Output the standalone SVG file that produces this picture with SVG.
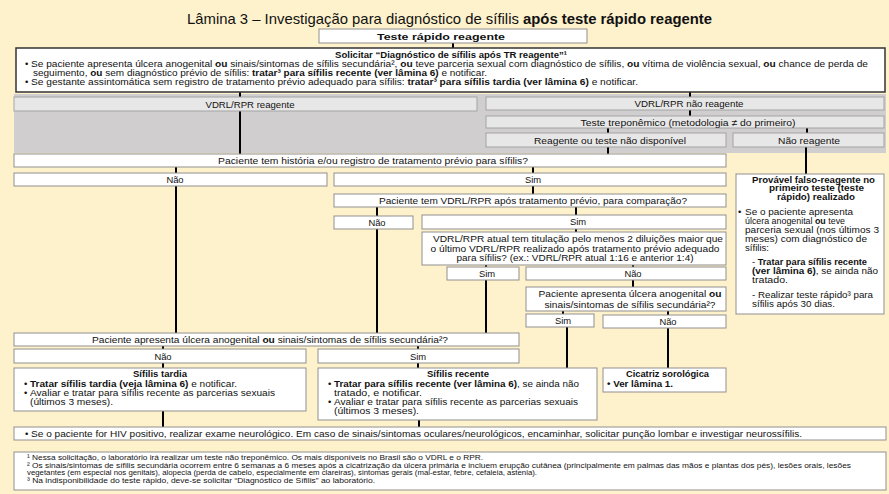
<svg xmlns="http://www.w3.org/2000/svg" width="889" height="494" viewBox="0 0 889 494">
<style>
.t{font-family:"Liberation Sans",Arial,sans-serif;font-size:9.4px;fill:#111}
.ti{font-family:"Liberation Sans",Arial,sans-serif;font-size:14.5px;fill:#111}
.fn{font-family:"Liberation Sans",Arial,sans-serif;font-size:7.6px;fill:#111}
.b{font-weight:bold}
.m{text-anchor:middle}
.box{fill:#fff;stroke:#8F8F8F;stroke-width:1}
.gbox{fill:#E8E7E7;stroke:#A3A3A3;stroke-width:1}
.ln{stroke:#000;stroke-width:2;fill:none}
</style>
<rect x="0" y="0" width="889" height="494" fill="#FEF2CD"/>
<text class="ti m" x="449.5" y="24" textLength="525" lengthAdjust="spacingAndGlyphs">Lâmina 3 – Investigação para diagnóstico de sífilis <tspan class="b">após teste rápido reagente</tspan></text>

<rect x="14" y="94" width="872" height="59" fill="#D0CECE"/>

<g id="connectors">
<line class="ln" x1="453" y1="43" x2="453" y2="48"/>
<line class="ln" x1="240" y1="92" x2="240" y2="97"/>
<line class="ln" x1="690" y1="92" x2="690" y2="97"/>
<line class="ln" x1="240" y1="111" x2="240" y2="154"/>
<line class="ln" x1="690" y1="110" x2="690" y2="116"/>
<line class="ln" x1="608" y1="128" x2="608" y2="133"/>
<line class="ln" x1="807" y1="128" x2="807" y2="133"/>
<line class="ln" x1="608" y1="147" x2="608" y2="154"/>
<line class="ln" x1="806" y1="147" x2="806" y2="174"/>
<line class="ln" x1="176" y1="167" x2="176" y2="173"/>
<line class="ln" x1="533" y1="167" x2="533" y2="173"/>
<line class="ln" x1="176" y1="186" x2="176" y2="333"/>
<line class="ln" x1="533" y1="186" x2="533" y2="194"/>
<line class="ln" x1="377" y1="207" x2="377" y2="216"/>
<line class="ln" x1="576" y1="207" x2="576" y2="215"/>
<line class="ln" x1="377" y1="229" x2="377" y2="333"/>
<line class="ln" x1="576" y1="229" x2="576" y2="232"/>
<line class="ln" x1="486" y1="265" x2="486" y2="267"/>
<line class="ln" x1="633" y1="265" x2="633" y2="267"/>
<line class="ln" x1="486" y1="280" x2="486" y2="333"/>
<line class="ln" x1="633" y1="280" x2="633" y2="287"/>
<line class="ln" x1="563" y1="311" x2="563" y2="314"/>
<line class="ln" x1="668" y1="311" x2="668" y2="315"/>
<line class="ln" x1="567" y1="327" x2="567" y2="368"/>
<line class="ln" x1="668" y1="328" x2="668" y2="368"/>
<line class="ln" x1="163" y1="346" x2="163" y2="349"/>
<line class="ln" x1="418" y1="346" x2="418" y2="349"/>
<line class="ln" x1="163" y1="363" x2="163" y2="368"/>
<line class="ln" x1="418" y1="363" x2="418" y2="368"/>
<line class="ln" x1="163" y1="411" x2="163" y2="427"/>
<line class="ln" x1="419" y1="420" x2="419" y2="427"/>
</g>

<g id="teste-rapido">
<rect class="box" x="319" y="29" width="268" height="14"/>
<text class="t b m" x="441" y="39.5" textLength="128" lengthAdjust="spacingAndGlyphs">Teste rápido reagente</text>
</g>

<g id="solicitar">
<rect x="16" y="48" width="869" height="44" fill="#fff" stroke="#333" stroke-width="1.5"/>
<text class="t b m" x="451" y="57.5" textLength="232" lengthAdjust="spacingAndGlyphs">Solicitar “Diagnóstico de sífilis após TR reagente”¹</text>
<text class="t" x="25" y="66.5">•</text>
<text class="t" x="31" y="66.5" textLength="837" lengthAdjust="spacingAndGlyphs">Se paciente apresenta úlcera anogenital <tspan class="b">ou</tspan> sinais/sintomas de sífilis secundária², <tspan class="b">ou</tspan> teve parceria sexual com diagnóstico de sífilis, <tspan class="b">ou</tspan> vítima de violência sexual, <tspan class="b">ou</tspan> chance de perda de</text>
<text class="t" x="33" y="75.5" textLength="454" lengthAdjust="spacingAndGlyphs">seguimento, <tspan class="b">ou</tspan> sem diagnóstico prévio de sífilis: <tspan class="b">tratar³ para sífilis recente (ver lâmina 6)</tspan> e notificar.</text>
<text class="t" x="25" y="84.5">•</text>
<text class="t" x="31" y="84.5" textLength="607" lengthAdjust="spacingAndGlyphs">Se gestante assintomática sem registro de tratamento prévio adequado para sífilis: <tspan class="b">tratar³ para sífilis tardia (ver lâmina 6)</tspan> e notificar.</text>
</g>

<g id="vdrl-reagente">
<rect class="gbox" x="14" y="97" width="463" height="14"/>
<text class="t m" x="250" y="107.5" textLength="89" lengthAdjust="spacingAndGlyphs">VDRL/RPR reagente</text>
</g>
<g id="vdrl-nao-reagente">
<rect class="gbox" x="486" y="97" width="398" height="13"/>
<text class="t m" x="689" y="107" textLength="109" lengthAdjust="spacingAndGlyphs">VDRL/RPR não reagente</text>
</g>
<g id="teste-treponemico">
<rect class="gbox" x="486" y="116" width="398" height="12"/>
<text class="t m" x="688" y="125.5" textLength="215" lengthAdjust="spacingAndGlyphs">Teste treponêmico (metodologia ≠ do primeiro)</text>
</g>
<g id="reagente-ou">
<rect class="gbox" x="486" y="133" width="240" height="14"/>
<text class="t m" x="610" y="143.5" textLength="152" lengthAdjust="spacingAndGlyphs">Reagente ou teste não disponível</text>
</g>
<g id="nao-reagente">
<rect class="gbox" x="733" y="133" width="151" height="14"/>
<text class="t m" x="809" y="143.5" textLength="62" lengthAdjust="spacingAndGlyphs">Não reagente</text>
</g>

<g id="historia">
<rect class="box" x="14" y="154" width="712" height="13"/>
<text class="t m" x="373" y="164" textLength="310" lengthAdjust="spacingAndGlyphs">Paciente tem história e/ou registro de tratamento prévio para sífilis?</text>
</g>
<g id="hist-nao">
<rect class="box" x="14" y="173" width="313" height="13"/>
<text class="t m" x="175" y="183">Não</text>
</g>
<g id="hist-sim">
<rect class="box" x="334" y="173" width="392" height="13"/>
<text class="t m" x="533" y="183">Sim</text>
</g>
<g id="vdrl-apos">
<rect class="box" x="334" y="194" width="392" height="13"/>
<text class="t m" x="533" y="204" textLength="308" lengthAdjust="spacingAndGlyphs">Paciente tem VDRL/RPR após tratamento prévio, para comparação?</text>
</g>
<g id="apos-nao">
<rect class="box" x="334" y="216" width="79" height="13"/>
<text class="t m" x="377" y="226">Não</text>
</g>
<g id="apos-sim">
<rect class="box" x="422" y="215" width="304" height="14"/>
<text class="t m" x="578" y="225">Sim</text>
</g>
<g id="vdrl-atual">
<rect class="box" x="422" y="232" width="304" height="33"/>
<text class="t m" x="578" y="242" textLength="290" lengthAdjust="spacingAndGlyphs">VDRL/RPR atual tem titulação pelo menos 2 diluições maior que</text>
<text class="t m" x="575" y="251.5" textLength="289" lengthAdjust="spacingAndGlyphs">o último VDRL/RPR realizado após tratamento prévio adequado</text>
<text class="t m" x="575" y="261" textLength="237" lengthAdjust="spacingAndGlyphs">para sífilis? (ex.: VDRL/RPR atual 1:16 e anterior 1:4)</text>
</g>
<g id="atual-sim">
<rect class="box" x="447" y="267" width="72" height="13"/>
<text class="t m" x="487" y="277">Sim</text>
</g>
<g id="atual-nao">
<rect class="box" x="526" y="267" width="200" height="13"/>
<text class="t m" x="633" y="277">Não</text>
</g>
<g id="ulcera-pequena">
<rect class="box" x="526" y="287" width="200" height="24"/>
<text class="t m" x="630" y="297" textLength="183" lengthAdjust="spacingAndGlyphs">Paciente apresenta úlcera anogenital <tspan class="b">ou</tspan></text>
<text class="t m" x="630" y="307.5" textLength="171" lengthAdjust="spacingAndGlyphs">sinais/sintomas de sífilis secundária²?</text>
</g>
<g id="ulcera-sim">
<rect class="box" x="526" y="314" width="68" height="13"/>
<text class="t m" x="563" y="324">Sim</text>
</g>
<g id="ulcera-nao">
<rect class="box" x="603" y="315" width="123" height="13"/>
<text class="t m" x="668" y="325">Não</text>
</g>

<g id="provavel">
<rect class="box" x="736" y="174" width="148" height="140"/>
<text class="t b m" x="813.5" y="182.5" textLength="123" lengthAdjust="spacingAndGlyphs">Provável falso-reagente no</text>
<text class="t b m" x="816.5" y="191" textLength="95" lengthAdjust="spacingAndGlyphs">primeiro teste (teste</text>
<text class="t b m" x="816" y="199.5" textLength="78" lengthAdjust="spacingAndGlyphs">rápido) realizado</text>
<text class="t" x="738" y="215">•</text>
<text class="t" x="745" y="215" textLength="108" lengthAdjust="spacingAndGlyphs">Se o paciente apresenta</text>
<text class="t" x="745" y="224" textLength="100" lengthAdjust="spacingAndGlyphs">úlcera anogenital <tspan class="b">ou</tspan> teve</text>
<text class="t" x="745" y="233" textLength="134" lengthAdjust="spacingAndGlyphs">parceria sexual (nos últimos 3</text>
<text class="t" x="745" y="242" textLength="122" lengthAdjust="spacingAndGlyphs">meses) com diagnóstico de</text>
<text class="t" x="745" y="251" textLength="24" lengthAdjust="spacingAndGlyphs">sífilis:</text>
<text class="t" x="752" y="265" textLength="115" lengthAdjust="spacingAndGlyphs">- <tspan class="b">Tratar para sífilis recente</tspan></text>
<text class="t" x="752" y="274" textLength="126" lengthAdjust="spacingAndGlyphs"><tspan class="b">(ver lâmina 6)</tspan>, se ainda não</text>
<text class="t" x="752" y="283" textLength="36" lengthAdjust="spacingAndGlyphs">tratado.</text>
<text class="t" x="752" y="298" textLength="121" lengthAdjust="spacingAndGlyphs">- Realizar teste rápido³ para</text>
<text class="t" x="752" y="307" textLength="83" lengthAdjust="spacingAndGlyphs">sífilis após 30 dias.</text>
</g>

<g id="ulcera-grande">
<rect class="box" x="14" y="333" width="505" height="13"/>
<text class="t m" x="270" y="343" textLength="356" lengthAdjust="spacingAndGlyphs">Paciente apresenta úlcera anogenital <tspan class="b">ou</tspan> sinais/sintomas de sífilis secundária²?</text>
</g>
<g id="grande-nao">
<rect class="box" x="14" y="349" width="292" height="14"/>
<text class="t m" x="163" y="359.5">Não</text>
</g>
<g id="grande-sim">
<rect class="box" x="318" y="349" width="201" height="14"/>
<text class="t m" x="418" y="359.5">Sim</text>
</g>

<g id="sifilis-tardia">
<rect class="box" x="14" y="368" width="292" height="43"/>
<text class="t b m" x="160" y="377" textLength="54" lengthAdjust="spacingAndGlyphs">Sífilis tardia</text>
<text class="t" x="24" y="386.5">•</text>
<text class="t" x="30" y="386.5" textLength="207" lengthAdjust="spacingAndGlyphs"><tspan class="b">Tratar sífilis tardia (veja lâmina 6)</tspan> e notificar.</text>
<text class="t" x="24" y="395.5">•</text>
<text class="t" x="30" y="395.5" textLength="245" lengthAdjust="spacingAndGlyphs">Avaliar e tratar para sífilis recente as parcerias sexuais</text>
<text class="t" x="30" y="404.5" textLength="83" lengthAdjust="spacingAndGlyphs">(últimos 3 meses).</text>
</g>

<g id="sifilis-recente">
<rect class="box" x="318" y="368" width="279" height="52"/>
<text class="t b m" x="458" y="377" textLength="62" lengthAdjust="spacingAndGlyphs">Sífilis recente</text>
<text class="t" x="328" y="387">•</text>
<text class="t" x="334" y="387" textLength="245" lengthAdjust="spacingAndGlyphs"><tspan class="b">Tratar para sífilis recente (ver lâmina 6)</tspan>, se ainda não</text>
<text class="t" x="334" y="396" textLength="88" lengthAdjust="spacingAndGlyphs">tratado, e notificar.</text>
<text class="t" x="328" y="404.5">•</text>
<text class="t" x="334" y="404.5" textLength="244" lengthAdjust="spacingAndGlyphs">Avaliar e tratar para sífilis recente as parcerias sexuais</text>
<text class="t" x="334" y="413.5" textLength="85" lengthAdjust="spacingAndGlyphs">(últimos 3 meses).</text>
</g>

<g id="cicatriz">
<rect class="box" x="603" y="368" width="123" height="24"/>
<text class="t b m" x="667.5" y="377" textLength="83" lengthAdjust="spacingAndGlyphs">Cicatriz sorológica</text>
<text class="t b" x="607" y="387" textLength="66" lengthAdjust="spacingAndGlyphs">• Ver lâmina 1.</text>
</g>

<g id="hiv">
<rect class="box" x="14" y="427" width="872" height="13"/>
<text class="t" x="25" y="437">•</text>
<text class="t" x="31" y="437" textLength="771" lengthAdjust="spacingAndGlyphs">Se o paciente for HIV positivo, realizar exame neurológico. Em caso de sinais/sintomas oculares/neurológicos, encaminhar, solicitar punção lombar e investigar neurossífilis.</text>
</g>

<g id="notas">
<rect class="box" x="14" y="452" width="872" height="38"/>
<text class="fn" x="27" y="460" textLength="456" lengthAdjust="spacingAndGlyphs">¹ Nessa solicitação, o laboratório irá realizar um teste não treponêmico. Os mais disponíveis no Brasil são o VDRL e o RPR.</text>
<text class="fn" x="27" y="467.5" textLength="824" lengthAdjust="spacingAndGlyphs">² Os sinais/sintomas de sífilis secundária ocorrem entre 6 semanas a 6 meses após a cicatrização da úlcera primária e incluem erupção cutânea (principalmente em palmas das mãos e plantas dos pés), lesões orais, lesões</text>
<text class="fn" x="27" y="475" textLength="510" lengthAdjust="spacingAndGlyphs">vegetantes (em especial nos genitais), alopecia (perda de cabelo, especialmente em clareiras), sintomas gerais (mal-estar, febre, cefaleia, astenia).</text>
<text class="fn" x="27" y="482.5" textLength="348" lengthAdjust="spacingAndGlyphs">³ Na indisponibilidade do teste rápido, deve-se solicitar “Diagnóstico de Sífilis” ao laboratório.</text>
</g>
</svg>
